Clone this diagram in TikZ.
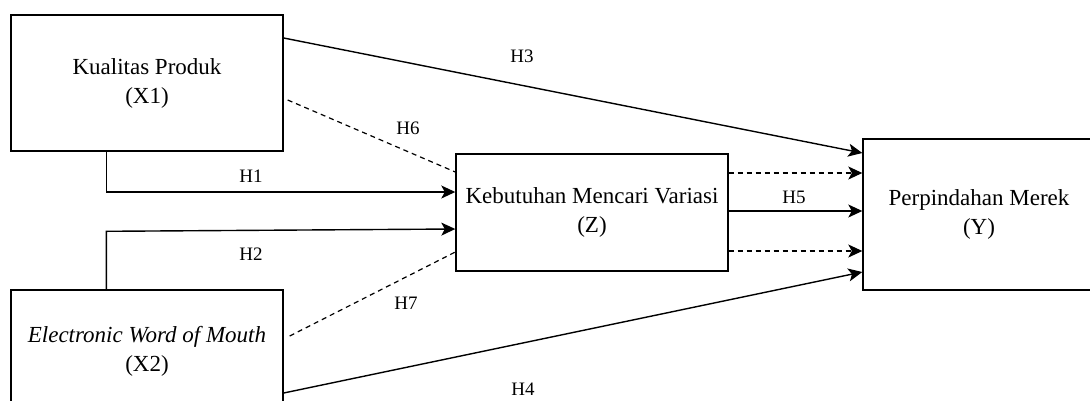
\documentclass[tikz,border=0pt]{standalone}
\usepackage{fontspec}
\setmainfont{Liberation Serif}
\usetikzlibrary{arrows.meta}
\begin{document}
\begin{tikzpicture}[x=1pt,y=-1pt,
  box/.style={draw, line width=1.4pt, minimum width=272pt, align=center,
    font=\fontsize{23}{29}\selectfont, inner sep=0pt},
  lbl/.style={font=\fontsize{19}{22}\selectfont, inner sep=0pt},
  conn/.style={line width=1.4pt, -{Stealth[length=14pt,width=13pt,inset=3.5pt]}},
  dsh/.style={line width=1.2pt, dash pattern=on 5pt off 4pt}]
\path[use as bounding box] (0,0) rectangle (1090,400);
\clip (0,0) rectangle (1090,400);
\node[box, minimum height=136pt] (x1) at (147,83) {Kualitas Produk\\(X1)};
\node[box, minimum height=122pt] (x2) at (147,351) {\textit{Electronic Word of Mouth}\\(X2)};
\node[box, minimum height=117pt] (z) at (592,212.5) {Kebutuhan Mencari Variasi\\(Z)};
\node[box, minimum width=232pt, minimum height=151pt] (y) at (979,214.5) {Perpindahan Merek\\(Y)};
% H1, H2
\draw[conn] ([xshift=96pt]x1.south west) |- ([yshift=20.5pt]z.west);
\draw[conn] ([xshift=96pt]x2.north west) -- ++(0,-58) -- ([yshift=-16.5pt]z.west);
% H3, H4
\draw[conn] ([yshift=45pt]x1.east) -- ([yshift=61.5pt]y.west);
\draw[conn] ([yshift=-42pt]x2.east) -- ([yshift=-57.5pt]y.west);
% H6, H7
\draw[dsh] ([xshift=4pt,yshift=-17pt]x1.east) -- ([yshift=40.5pt]z.west);
\draw[dsh] ([xshift=6pt,yshift=15pt]x2.east) -- ([yshift=-39.5pt]z.west);
% Z -> Y
\draw[conn] ([yshift=1.5pt]z.east) -- ([yshift=1.5pt]z.east -| y.west);
\draw[conn,dsh] ([yshift=39.5pt]z.east) -- ([yshift=39.5pt]z.east -| y.west);
\draw[conn,dsh] ([yshift=-38.5pt]z.east) -- ([yshift=-38.5pt]z.east -| y.west);
% labels
\node[lbl] (l3) at (522,56) {H3};
\node[lbl] (l6) at (408,128) {H6};
\node[lbl] (l1) at (251,176) {H1};
\node[lbl] (l2) at (251,254) {H2};
\node[lbl] (l7) at (406,303) {H7};
\node[lbl] (l4) at (523,389) {H4};
\node[lbl] (l5) at (794,197) {H5};
\end{tikzpicture}
\end{document}
